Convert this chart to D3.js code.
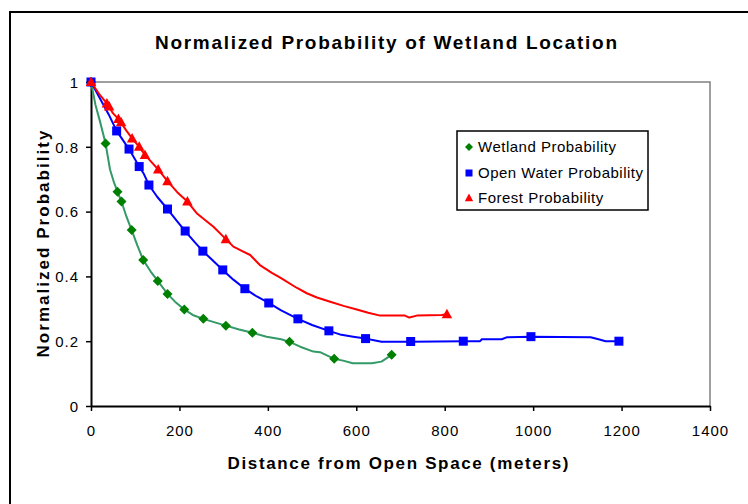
<!DOCTYPE html>
<html>
<head>
<meta charset="utf-8">
<script src="https://cdn.jsdelivr.net/npm/d3@7"></script>
<style>
body { margin:0; background:#fff; }
text { font-family: "Liberation Sans", Arial, sans-serif; fill:#000; }
</style>
</head>
<body>
<div id="chart"></div>
<script>
////////////////////////////////////////////////////
// data
////////////////////////////////////////////////////
var xTicks = [0,200,400,600,800,1000,1200,1400];
var yTicks = [0,0.2,0.4,0.6,0.8,1];
var seriesNames = ["Wetland Probability","Open Water Probability","Forest Probability"];

// wetland
var wetMarkX = [0,33,60,69,92,118,151,173,211,254,305,365,449,550,680];
var wetMarkY = [1,0.81,0.661,0.631,0.543,0.451,0.386,0.346,0.298,0.269,0.248,0.226,0.198,0.146,0.158];
var wetLineX = [0,10,20,33,43,52,60,69,80,92,105,118,135,151,173,190,211,230,254,280,305,335,365,397,430,449,473,503,518,537,550,570,592,635,657,680];
var wetLineY = [1,0.93,0.88,0.81,0.73,0.69,0.661,0.631,0.585,0.543,0.495,0.451,0.415,0.386,0.346,0.322,0.298,0.281,0.269,0.258,0.248,0.236,0.226,0.214,0.206,0.198,0.183,0.168,0.166,0.154,0.146,0.14,0.132,0.132,0.137,0.158];

// open water
var owMarkX = [0,58,86,109,131,173,213,253,298,348,402,468,538,621,723,842,995,1194];
var owMarkY = [1,0.849,0.793,0.739,0.682,0.608,0.54,0.478,0.42,0.362,0.318,0.269,0.232,0.208,0.199,0.2,0.214,0.2];
var owLineX = [0,20,40,58,86,109,120,131,150,173,195,213,235,253,275,298,322,348,375,402,430,468,500,538,563,593,621,640,657,723,842,880,884,929,940,995,1130,1150,1164,1194];
var owLineY = [1,0.95,0.9,0.849,0.793,0.739,0.715,0.682,0.645,0.608,0.57,0.54,0.505,0.478,0.45,0.42,0.39,0.362,0.338,0.318,0.295,0.269,0.25,0.232,0.221,0.214,0.208,0.203,0.198,0.198,0.2,0.2,0.206,0.206,0.212,0.214,0.212,0.205,0.2,0.2];

// forest
var foMarkX = [0,36,41,62,68,93,109,122,152,173,218,305,805];
var foMarkY = [1,0.934,0.924,0.886,0.876,0.826,0.8,0.775,0.73,0.694,0.631,0.515,0.283];
var foLineX = [0,20,36,50,62,80,93,109,122,140,152,173,195,218,239,260,277,305,322,341,360,382,409,428,465,488,511,541,571,601,627,654,710,720,737,793,805];
var foLineY = [1,0.96,0.934,0.903,0.886,0.85,0.826,0.8,0.775,0.748,0.73,0.694,0.66,0.631,0.595,0.572,0.553,0.515,0.492,0.479,0.466,0.435,0.411,0.396,0.365,0.348,0.335,0.322,0.309,0.298,0.288,0.279,0.279,0.273,0.279,0.281,0.283];
////////////////////////////////////////////////////

function pairs(xs,ys) { return xs.map(function(x,i){ return [x, ys[i]]; }); }

var W = 748, H = 504;
var L = 91, R = 710, T = 82, B = 406;

var svg = d3.select("#chart").append("svg")
	.attr("width", W)
	.attr("height", H);

// outer frame (runs off the right/bottom edge)
svg.append("rect")
	.attr("x", 10).attr("y", 12)
	.attr("width", 760).attr("height", 510)
	.attr("fill", "#fff")
	.attr("stroke", "#000")
	.attr("stroke-width", 2);

var x = d3.scaleLinear().domain([0,1400]).range([L,R]);
var y = d3.scaleLinear().domain([0,1]).range([B,T]);

// gray plot border top / right
svg.append("path")
	.attr("d", "M"+L+","+T+"H"+R+"V"+B)
	.attr("fill", "none")
	.attr("stroke", "#808080")
	.attr("stroke-width", 1.5);

// axes
var xAxis = svg.append("g")
	.attr("transform", "translate(0,"+B+")")
	.call(d3.axisBottom(x).tickValues(xTicks).tickSize(5).tickSizeOuter(0).tickPadding(14).tickFormat(d3.format("d")));
var yAxis = svg.append("g")
	.attr("transform", "translate("+L+",0)")
	.call(d3.axisLeft(y).tickValues(yTicks).tickSize(5).tickSizeOuter(0).tickPadding(7).tickFormat(function(d){ return d3.format("")(+d.toFixed(1)); }));

[xAxis, yAxis].forEach(function(a){
	a.select(".domain").attr("stroke", "#000").attr("stroke-width", 2);
	a.selectAll(".tick line").attr("stroke", "#000").attr("stroke-width", 1.5);
	a.selectAll(".tick text")
		.attr("font-family", "Liberation Sans, Arial, sans-serif")
		.attr("font-size", 15)
		.attr("letter-spacing", 1)
		.attr("fill", "#000");
});
yAxis.selectAll(".tick text").attr("dy", "0.35em");

// lines
var line = d3.line().x(function(d){ return x(d[0]); }).y(function(d){ return y(d[1]); });

var series = [
	{name: seriesNames[0], line: pairs(wetLineX,wetLineY), marks: pairs(wetMarkX,wetMarkY), lineColor:"#339966", markColor:"#008000", shape:"diamond"},
	{name: seriesNames[1], line: pairs(owLineX,owLineY), marks: pairs(owMarkX,owMarkY), lineColor:"#0000FF", markColor:"#0000FF", shape:"square"},
	{name: seriesNames[2], line: pairs(foLineX,foLineY), marks: pairs(foMarkX,foMarkY), lineColor:"#FF0000", markColor:"#FF0000", shape:"triangle"}
];

function shapePath(shape, s) {
	if (shape == "diamond") return "M0,"+(-s)+"L"+s+",0L0,"+s+"L"+(-s)+",0Z";
	if (shape == "square") return "M"+(-s)+","+(-s)+"H"+s+"V"+s+"H"+(-s)+"Z";
	return "M0,"+(-s*1.1)+"L"+(s*1.05)+","+(s*0.8)+"L"+(-s*1.05)+","+(s*0.8)+"Z";
}

var gs = svg.append("g").selectAll("g.series")
	.data(series)
	.enter().append("g")
		.attr("class","series");

gs.append("path")
	.attr("d", function(d){ return line(d.line); })
	.attr("fill", "none")
	.attr("stroke", function(d){ return d.lineColor; })
	.attr("stroke-width", 2)
	.attr("stroke-linejoin", "round");

gs.each(function(s){
	d3.select(this).selectAll("path.mark")
		.data(s.marks)
		.enter().append("path")
			.attr("class","mark")
			.attr("transform", function(d){ return "translate("+x(d[0])+","+y(d[1])+")"; })
			.attr("d", shapePath(s.shape, s.shape=="square" ? 4.5 : 5))
			.attr("fill", s.markColor);
});

// titles
svg.append("text")
	.attr("x", 386).attr("y", 49)
	.attr("text-anchor", "middle")
	.attr("font-weight", "bold")
	.attr("font-size", 19)
	.attr("textLength", 462)
	.attr("lengthAdjust", "spacing")
	.text("Normalized Probability of Wetland Location");

svg.append("text")
	.attr("x", 398).attr("y", 469)
	.attr("text-anchor", "middle")
	.attr("font-weight", "bold")
	.attr("font-size", 17)
	.attr("textLength", 341)
	.attr("lengthAdjust", "spacing")
	.text("Distance from Open Space (meters)");

svg.append("text")
	.attr("transform", "translate(49,244) rotate(-90)")
	.attr("text-anchor", "middle")
	.attr("font-weight", "bold")
	.attr("font-size", 17)
	.attr("textLength", 227)
	.attr("lengthAdjust", "spacing")
	.text("Normalized Probability");

// legend
var leg = svg.append("g");
leg.append("rect")
	.attr("x", 457).attr("y", 131)
	.attr("width", 191).attr("height", 79)
	.attr("fill", "#fff")
	.attr("stroke", "#000")
	.attr("stroke-width", 1.5);

var rows = leg.selectAll("g.row")
	.data(series)
	.enter().append("g")
		.attr("class","row")
		.attr("transform", function(d,i){ return "translate(469,"+[147,173,198][i]+")"; });
rows.append("path")
	.attr("d", function(d){ return shapePath(d.shape, d.shape=="square" ? 3.5 : 4); })
	.attr("fill", function(d){ return d.markColor; });
rows.append("text")
	.attr("x", 9)
	.attr("dy", "0.35em")
	.attr("font-size", 15)
	.attr("letter-spacing", 0.5)
	.text(function(d){ return d.name; });
</script>
</body>
</html>
